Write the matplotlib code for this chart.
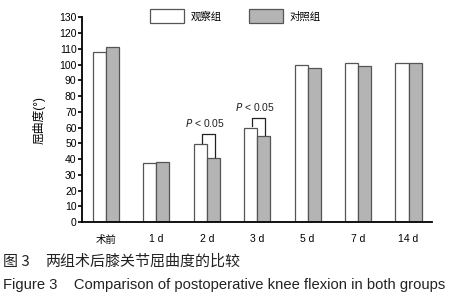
import numpy as np
import matplotlib
matplotlib.use('Agg')
import matplotlib.pyplot as plt

plt.rcParams['font.family'] = ['Liberation Sans', 'Noto Sans CJK SC', 'DejaVu Sans']

# data
groups = ['术前', '1 d', '2 d', '3 d', '5 d', '7 d', '14 d']
obs_vals = [108.3, 37.7, 49.5, 60.0, 99.8, 101.3, 101.3]
ctl_vals = [111.4, 38.3, 40.5, 54.5, 97.7, 99.4, 101.3]
series_names = ['观察组', '对照组']
yticks = list(range(0, 140, 10))
# significance brackets: (group index, bracket top)
sig_marks = [(2, 56), (3, 66)]

fig = plt.figure(figsize=(4.54, 3.0), dpi=100)
ax = fig.add_axes([0.181, 0.26, 0.771, 0.682])

x = np.arange(len(groups))
w = 0.26
ax.bar(x - w/2, obs_vals, w, color='white', edgecolor='#555555',
       linewidth=0.9, label=series_names[0])
ax.bar(x + w/2, ctl_vals, w, color='#b4b4b4', edgecolor='#555555',
       linewidth=0.9, label=series_names[1])

for gi, top in sig_marks:
    xl, xr = gi - w/2 + 0.03, gi + w/2 + 0.03
    ax.plot([xl, xl, xr, xr], [obs_vals[gi] + 1, top, top, ctl_vals[gi] + 1],
            color='#222222', lw=0.9)
    ax.text(gi - 0.04, top + 3, r'$\it{P}$' + ' < 0.05', ha='center',
            va='bottom', fontsize=7.5, color='#222222')

ax.set_xlim(-0.47, len(groups) - 1 + 0.47)
ax.set_ylim(0, 130)
ax.set_yticks(yticks)
ax.set_xticks(x)
ax.set_xticklabels(groups, fontsize=7.5)
ax.tick_params(axis='x', length=0, pad=9)
ax.tick_params(axis='y', length=3, width=1.2, labelsize=7.5, pad=1)
for s in ['top', 'right']:
    ax.spines[s].set_visible(False)
for s in ['left', 'bottom']:
    ax.spines[s].set_linewidth(1.3)
ax.set_ylabel('屈曲度(°)', fontsize=8.5, labelpad=10)

fig.legend(loc='upper left', bbox_to_anchor=(0.31, 1.0), ncol=2,
           frameon=False, fontsize=7.5, handlelength=3.3, handleheight=1.6,
           columnspacing=2.6, handletextpad=0.6)

fig.text(0.006, 0.127, '图 3', fontsize=10.8,
         family=['Noto Sans CJK SC', 'DejaVu Sans'], va='center', color='#222222')
fig.text(0.099, 0.127, '两组术后膝关节屈曲度的比较', fontsize=10.8,
         family=['Noto Sans CJK SC', 'DejaVu Sans'], va='center', color='#222222')
fig.text(0.006, 0.05, 'Figure 3    Comparison of postoperative knee flexion in both groups',
         fontsize=10.6, va='center', color='#222222')

fig.savefig('out.png', dpi=100)
